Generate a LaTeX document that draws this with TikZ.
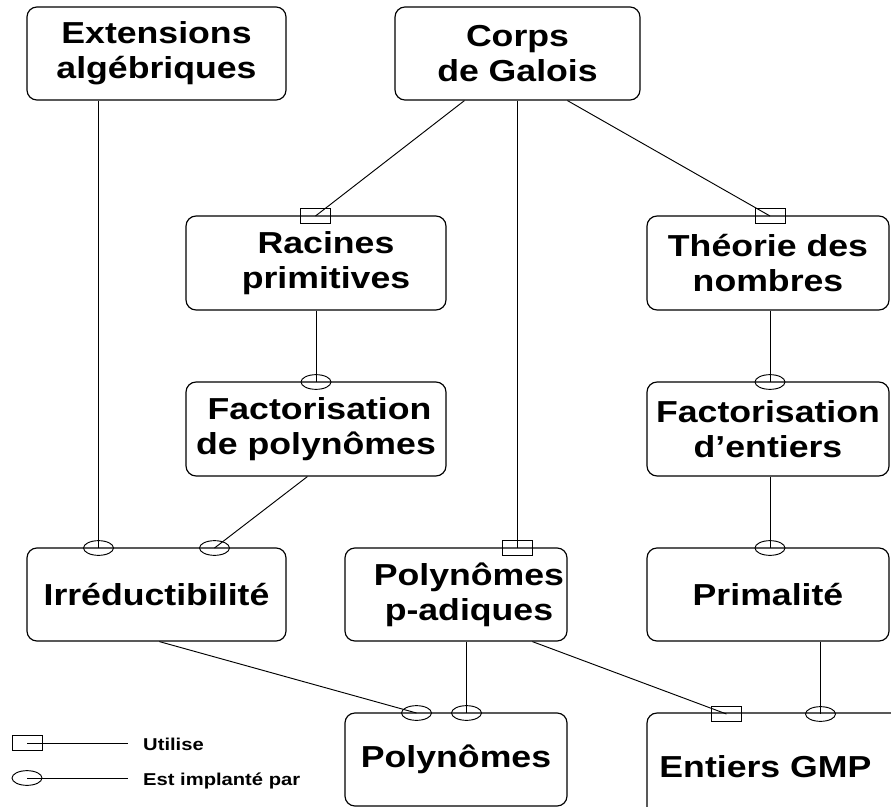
\documentclass[tikz,border=0pt]{standalone}
\usepackage{fontspec}
\newfontfamily\bx{Liberation Sans}[FakeStretch=1.175]
\usetikzlibrary{shapes.geometric,calc}
\begin{document}
\begin{tikzpicture}[x=0.8504pt,y=-0.8504pt,
  box/.style={draw, rounded corners=8.5pt, line width=1pt, inner sep=0pt, align=center,
    font={\bx\bfseries\fontsize{25.8}{29.8}\selectfont}},
  usesmark/.style={draw, rectangle, line width=0.8pt, minimum width=25.5pt, minimum height=12pt, inner sep=0pt},
  implmark/.style={draw, ellipse, line width=0.8pt, minimum width=25.5pt, minimum height=12.5pt, inner sep=0pt},
  conn/.style={line width=0.8pt},
  legtext/.style={anchor=base west, inner sep=0pt, font={\bx\bfseries\fontsize{14.6}{17}\selectfont}}]
\clip (0,0) rectangle (891,807);
% boxes
\node[box, minimum width=220.3pt, minimum height=79.1pt] (ext) at (156.5,53.5) {Extensions\\algébriques};
\node[box, minimum width=208.3pt, minimum height=79.1pt] (corps) at (517.5,53.5) {Corps\\de Galois};
\node[box, minimum width=221.1pt, minimum height=79.9pt] (racines) at (316,263) {\hspace*{17pt}Racines\\\hspace*{17pt}primitives};
\node[box, minimum width=205.8pt, minimum height=79.9pt] (theorie) at (768,263) {Théorie des\\nombres};
\node[box, minimum width=221.1pt, minimum height=79.9pt] (factpoly) at (316,429) {\hspace*{6pt}Factorisation\\de polynômes};
\node[box, minimum width=205.8pt, minimum height=79.9pt] (factent) at (768,429) {Factorisation\\d’entiers};
\node[box, minimum width=220.3pt, minimum height=79.1pt] (irred) at (156.5,594.5) {Irréductibilité};
\node[box, minimum width=188.8pt, minimum height=79.1pt] (padic) at (456,594.5) {\hspace*{22pt}Polynômes\\\hspace*{22pt}p-adiques};
\node[box, minimum width=205.8pt, minimum height=79.1pt] (primal) at (768,594.5) {Primalité};
\node[box, minimum width=188.8pt, minimum height=79.1pt] (polyn) at (456,759.5) {Polynômes};
\node[box, minimum width=219.4pt, minimum height=91pt] (gmp) at (776,766.5) {\hspace*{-18pt}Entiers GMP};
% markers
\node[usesmark] (mrac) at (315.5,216) {};
\node[usesmark] (mthe) at (770,216) {};
\node[implmark] (mfp) at (316,382) {};
\node[implmark] (mfe) at (770,382) {};
\node[implmark] (mir1) at (98.5,548) {};
\node[implmark] (mir2) at (214.5,548) {};
\node[usesmark] (mpad) at (517,548) {};
\node[implmark] (mpri) at (770,548) {};
\node[implmark] (mpo1) at (416.5,713) {};
\node[implmark] (mpo2) at (466.5,713) {};
\node[usesmark] (mgm1) at (726.5,714) {};
\node[implmark] (mgm2) at (820.5,714) {};
% connectors
\draw[conn] (ext.south -| mir1) -- (mir1.center);
\draw[conn] ($(corps.south west)+(70,0)$) -- (mrac.center);
\draw[conn] (corps.south -| mpad) -- (mpad.center);
\draw[conn] ($(corps.south west)+(173,0)$) -- (mthe.center);
\draw[conn] (racines.south -| mfp) -- (mfp.center);
\draw[conn] (theorie.south -| mfe) -- (mfe.center);
\draw[conn] ($(factpoly.south west)+(122,0)$) -- (mir2.center);
\draw[conn] (factent.south -| mpri) -- (mpri.center);
\draw[conn] ($(irred.south west)+(133,0)$) -- (mpo1.center);
\draw[conn] (padic.south -| mpo2) -- (mpo2.center);
\draw[conn] ($(padic.south west)+(188,0)$) -- (mgm1.center);
\draw[conn] (primal.south -| mgm2) -- (mgm2.center);
% legend
\node[usesmark] (lu) at (27,743) {};
\coordinate (lue) at (128,743);
\draw[conn] (lu.center) -- (lue);
\node[implmark] (li) at (27,778) {};
\coordinate (lie) at (128,778);
\draw[conn] (li.center) -- (lie);
\node[legtext] (lut) at (143,750) {Utilise};
\node[legtext] (lit) at (143,785) {Est implanté par};
\end{tikzpicture}
\end{document}
